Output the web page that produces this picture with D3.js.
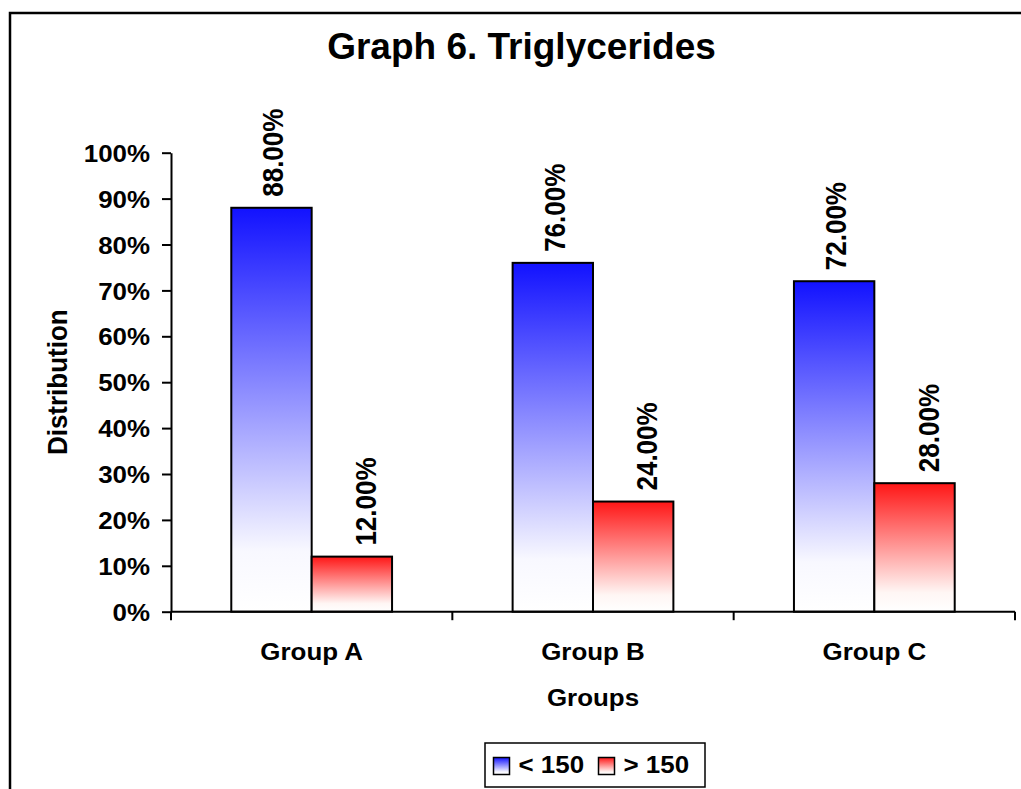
<!DOCTYPE html>
<html>
<head>
<meta charset="utf-8">
<script src="https://cdn.jsdelivr.net/npm/d3@7"></script>
<style>
  body { margin: 0; background: #fff; }
  svg { display: block; }
  text { font-family: "Liberation Sans", Arial, Helvetica, sans-serif; font-weight: bold; fill: #000; }
</style>
</head>
<body>
<svg id="chart" width="1021" height="789"></svg>
<script>
// Triglyceride distribution per group
const groups = ["Group A", "Group B", "Group C"];
const seriesNames = ["< 150", "> 150"];
const below150 = [0.88, 0.76, 0.72];
const above150 = [0.12, 0.24, 0.28];
const yTickValues = [0, 0.1, 0.2, 0.3, 0.4, 0.5, 0.6, 0.7, 0.8, 0.9, 1.0];
const titleText = "Graph 6. Triglycerides";
const yTitle = "Distribution";
const xTitle = "Groups";

const seriesValues = [below150, above150];
const seriesColors = ["#1212ff", "#ff1616"];

const svg = d3.select("#chart");
const W = 1021, H = 789;
const plot = { left: 171, right: 1015, top: 152.7, bottom: 611.7 };
const SX = 1.08; // horizontal text stretch

// Outer frame (extends past the right and bottom edges)
svg.append("rect")
  .attr("x", 10).attr("y", 13)
  .attr("width", W + 40).attr("height", H + 40)
  .attr("fill", "none").attr("stroke", "#000").attr("stroke-width", 2.5);

// Vertical gradients for the bars
const defs = svg.append("defs");
seriesColors.forEach((c, i) => {
  const g = defs.append("linearGradient")
    .attr("id", "grad" + i)
    .attr("x1", 0).attr("y1", 0).attr("x2", 0).attr("y2", 1);
  g.append("stop").attr("offset", 0).attr("stop-color", c);
  g.append("stop").attr("offset", 0.85).attr("stop-color", i === 0 ? "#f8f8ff" : "#fff6f4");
  g.append("stop").attr("offset", 1).attr("stop-color", "#ffffff");
});

// Scales
const x0 = d3.scaleBand().domain(groups).range([plot.left, plot.right]).paddingInner(0).paddingOuter(0);
const x1 = d3.scaleBand().domain(seriesNames).range([0, x0.bandwidth()]).paddingInner(0).paddingOuter(0.75);
const y = d3.scaleLinear().domain([0, 1]).range([plot.bottom, plot.top]);

// Title
svg.append("text")
  .attr("x", 521.5).attr("y", 59.3)
  .attr("text-anchor", "middle")
  .style("font-size", "37px")
  .text(titleText);

// Y axis
const yAxis = svg.append("g")
  .attr("transform", `translate(${plot.left},0)`)
  .call(d3.axisLeft(y).tickValues(yTickValues).tickFormat(d3.format(".0%"))
    .tickSize(9).tickSizeOuter(0).tickPadding(12));
yAxis.select(".domain").attr("stroke", "#000").attr("stroke-width", 2);
yAxis.selectAll(".tick line").attr("stroke", "#000").attr("stroke-width", 2);
yAxis.selectAll(".tick text")
  .attr("font-family", null).attr("font-size", null)
  .style("font-size", "24px")
  .attr("x", -21 / SX)
  .attr("dy", "0.36em")
  .attr("transform", `scale(${SX},1)`);

// Bars
const bars = svg.append("g");
groups.forEach((grp, gi) => {
  seriesNames.forEach((s, si) => {
    const v = seriesValues[si][gi];
    bars.append("rect")
      .attr("x", x0(grp) + x1(s))
      .attr("y", y(v))
      .attr("width", x1.bandwidth())
      .attr("height", y(0) - y(v))
      .attr("fill", `url(#grad${si})`)
      .attr("stroke", "#000")
      .attr("stroke-width", 2);
  });
});

// X axis line and boundary ticks
svg.append("line")
  .attr("x1", plot.left).attr("x2", plot.right)
  .attr("y1", y(0)).attr("y2", y(0))
  .attr("stroke", "#000").attr("stroke-width", 2);
const boundaries = groups.map(g => x0(g)).concat([x0.range()[1]]);
svg.append("g").selectAll("line").data(boundaries).join("line")
  .attr("x1", d => d).attr("x2", d => d)
  .attr("y1", y(0)).attr("y2", y(0) + 8.5)
  .attr("stroke", "#000").attr("stroke-width", 2);

// Group labels
svg.append("g").selectAll("text").data(groups).join("text")
  .attr("text-anchor", "middle")
  .style("font-size", "24px")
  .attr("transform", d => `translate(${x0(d) + x0.bandwidth() / 2},${y(0) + 48.3}) scale(${SX},1)`)
  .text(d => d);

// Value labels (rotated)
const labelShift = [1.5, 14];
const fmtPct = d3.format(".2%");
groups.forEach((grp, gi) => {
  seriesNames.forEach((s, si) => {
    const v = seriesValues[si][gi];
    const cx = x0(grp) + x1(s) + x1.bandwidth() / 2 + labelShift[si];
    svg.append("text")
      .attr("transform", `translate(${cx},${y(v) - 11}) scale(1.1,1) rotate(-90)`)
      .attr("text-anchor", "start")
      .attr("dy", "0.36em")
      .style("font-size", "26px")
      .text(fmtPct(v));
  });
});

// Axis titles
svg.append("text")
  .attr("transform", `translate(56.7,${(plot.top + plot.bottom) / 2}) scale(1.07,1) rotate(-90)`)
  .attr("text-anchor", "middle")
  .attr("dy", "0.36em")
  .style("font-size", "26px")
  .text(yTitle);

svg.append("text")
  .attr("transform", `translate(${(plot.left + plot.right) / 2},706) scale(${SX},1)`)
  .attr("text-anchor", "middle")
  .style("font-size", "24px")
  .text(xTitle);

// Legend
const legend = svg.append("g");
legend.append("rect")
  .attr("x", 485).attr("y", 743).attr("width", 220).attr("height", 44)
  .attr("fill", "#fff").attr("stroke", "#000").attr("stroke-width", 1.5);
const legendX = [493.5, 598.5];
seriesNames.forEach((s, si) => {
  legend.append("rect")
    .attr("x", legendX[si]).attr("y", 757.5).attr("width", 16).attr("height", 17)
    .attr("fill", `url(#grad${si})`).attr("stroke", "#000").attr("stroke-width", 1.5);
  legend.append("text")
    .attr("transform", `translate(${legendX[si] + 25},773.3) scale(${SX},1)`)
    .style("font-size", "24px")
    .text(s);
});
</script>
</body>
</html>
